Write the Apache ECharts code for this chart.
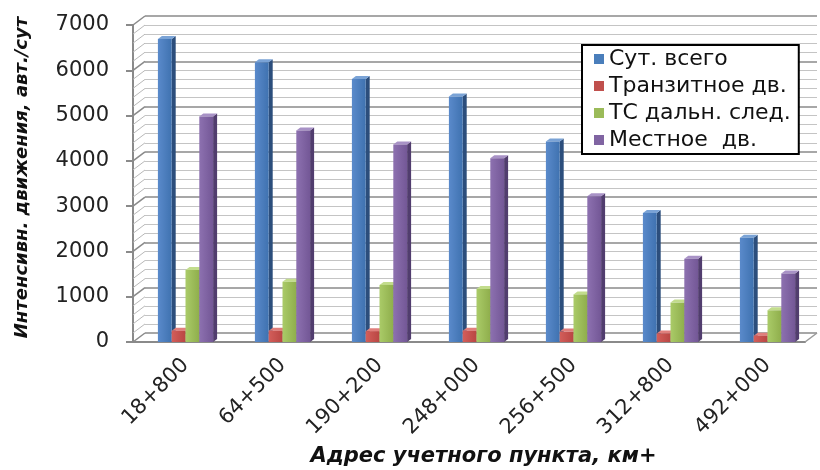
<!DOCTYPE html>
<html>
<head>
<meta charset="utf-8">
<style>
  html, body { margin: 0; padding: 0; background: #fff; }
  #chart { width: 820px; height: 470px; }
</style>
<script src="https://cdn.jsdelivr.net/npm/echarts@6/dist/echarts.min.js"></script>
</head>
<body>
<div id="chart"></div>
<script>
// Учетные пункты (адрес, км+)
const categories = ['18+800', '64+500', '190+200', '248+000', '256+500', '312+800', '492+000'];

// Интенсивность движения, авт./сут
const totalDaily   = [6690, 6180, 5810, 5420, 4430, 2850, 2300];
const transit      = [250, 250, 240, 250, 230, 190, 140];
const longDistance = [1590, 1330, 1260, 1170, 1050, 870, 700];
const localTraffic = [4980, 4670, 4360, 4060, 3220, 1840, 1510];

const seriesNames = ['Сут. всего', 'Транзитное дв.', 'ТС дальн. след.', 'Местное  дв.'];
const seriesData = [totalDaily, transit, longDistance, localTraffic];

// Value axis ticks
const yMin = 0, yMax = 7000, yStep = 1000, yMinorStep = 200;

// Face shades for each series: front, side, top
const palette = [
  { front: ['#5A8ACB', '#3F72B0'], side: '#2C4E7C', top: '#7AA3D6', legend: '#4A7EBB' },
  { front: ['#D35E5A', '#B94643'], side: '#853230', top: '#E07F7C', legend: '#C0504D' },
  { front: ['#AACB68', '#8FAE4C'], side: '#66823A', top: '#C2DC8C', legend: '#9BBB59' },
  { front: ['#8D71B0', '#735796'], side: '#513D6E', top: '#A892C6', legend: '#8064A2' }
];

const FONT = 'DejaVu Sans';
const DEPTH_X = 4, DEPTH_Y = 3;     // bar depth
const WALL_X = 12, WALL_Y = 9;      // chart wall depth
const BAR_W = 13.8;

function boxRenderer(idx) {
  return function (params, api) {
    const cat = api.value(0);
    const val = api.value(1);
    const base = api.coord([cat, 0]);
    const top = api.coord([cat, val]);
    const x0 = base[0] - 2 * BAR_W + idx * BAR_W;
    const x1 = x0 + BAR_W;
    const yb = base[1], yt = top[1];
    const c = palette[idx];
    return {
      type: 'group',
      children: [
        {
          type: 'polygon',
          shape: { points: [[x1, yt], [x1 + DEPTH_X, yt - DEPTH_Y], [x1 + DEPTH_X, yb - DEPTH_Y], [x1, yb]] },
          style: { fill: c.side }
        },
        {
          type: 'polygon',
          shape: { points: [[x0, yt], [x0 + DEPTH_X, yt - DEPTH_Y], [x1 + DEPTH_X, yt - DEPTH_Y], [x1, yt]] },
          style: { fill: c.top }
        },
        {
          type: 'rect',
          shape: { x: x0, y: yt, width: BAR_W, height: yb - yt },
          style: {
            fill: new echarts.graphic.LinearGradient(0, 0, 1, 0, [
              { offset: 0, color: c.front[0] },
              { offset: 1, color: c.front[1] }
            ])
          }
        }
      ]
    };
  };
}

// Levels of the left side wall lines
const wallLevels = [];
for (let v = yMin; v <= yMax; v += yMinorStep) wallLevels.push([0, v]);

function wallRenderer(params, api) {
  const v = api.value(1);
  const p = api.coord([0, v]);
  const cs = params.coordSys;
  const x = cs.x;
  const major = v % yStep === 0;
  const children = [{
    type: 'line',
    shape: { x1: x, y1: p[1], x2: x + WALL_X, y2: p[1] - WALL_Y },
    style: { stroke: major ? '#8a8a8a' : '#b8b8b8', lineWidth: major ? 1.5 : 1 }
  }];
  if (v === yMin) {
    const xr = cs.x + cs.width;
    children.push({
      type: 'line',
      shape: { x1: xr, y1: p[1], x2: xr + WALL_X, y2: p[1] - WALL_Y },
      style: { stroke: '#9a9a9a', lineWidth: 1.5 }
    });
  }
  return { type: 'group', children: children };
}

const chart = echarts.init(document.getElementById('chart'), null, { renderer: 'canvas' });

const barSeries = seriesData.map(function (arr, i) {
  return {
    name: seriesNames[i],
    type: 'custom',
    xAxisIndex: 0,
    yAxisIndex: 0,
    z: 10 + i,
    itemStyle: { color: palette[i].legend },
    renderItem: boxRenderer(i),
    data: arr.map(function (v, k) { return [k, v]; })
  };
});

chart.setOption({
  backgroundColor: '#ffffff',
  animation: false,
  textStyle: { fontFamily: FONT },
  grid: [
    // bars and category labels
    { left: 137, right: 4, top: 25, bottom: 128, containLabel: false, outerBoundsMode: 'none' },
    // front frame with value labels
    { left: 133, right: 15, top: 25, bottom: 128, containLabel: false, outerBoundsMode: 'none' },
    // back wall
    { left: 133 + WALL_X, right: 15 - WALL_X, top: 25 - WALL_Y, bottom: 128 + WALL_Y, containLabel: false, outerBoundsMode: 'none' }
  ],
  xAxis: [
    {
      gridIndex: 0, type: 'category', data: categories,
      axisLine: { show: false }, axisTick: { show: false },
      axisLabel: { rotate: 45, margin: 20, fontSize: 21, color: '#222', fontFamily: FONT },
      name: 'Адрес учетного пункта, км+',
      nameLocation: 'middle', nameGap: 104,
      nameTextStyle: { fontSize: 21, fontWeight: 'bold', fontStyle: 'italic', color: '#111', fontFamily: FONT, padding: [0, 0, 0, 14] }
    },
    {
      gridIndex: 1, type: 'category', data: categories,
      axisLine: { show: true, lineStyle: { color: '#8a8a8a', width: 2 } },
      axisTick: { show: false }, axisLabel: { show: false }
    },
    {
      gridIndex: 2, type: 'category', data: categories,
      axisLine: { show: false }, axisTick: { show: false }, axisLabel: { show: false }
    }
  ],
  yAxis: [
    {
      gridIndex: 0, type: 'value', min: yMin, max: yMax, interval: yStep,
      show: false
    },
    {
      gridIndex: 1, type: 'value', min: yMin, max: yMax, interval: yStep,
      axisLine: { show: true, lineStyle: { color: '#8a8a8a', width: 2 } },
      axisTick: { show: true, length: 7, lineStyle: { color: '#8a8a8a', width: 2 } },
      axisLabel: {
        margin: 24, fontSize: 21, color: '#222', fontFamily: FONT,
        formatter: function (v) { return String(v); }
      },
      splitLine: { show: false },
      name: 'Интенсивн. движения, авт./сут',
      nameLocation: 'middle', nameGap: 102,
      nameTextStyle: { fontSize: 18, fontWeight: 'bold', fontStyle: 'italic', color: '#111', fontFamily: FONT, padding: [0, 0, 0, 12] }
    },
    {
      gridIndex: 2, type: 'value', min: yMin, max: yMax, interval: yStep,
      axisLine: { show: false }, axisTick: { show: false }, axisLabel: { show: false },
      splitLine: { show: true, lineStyle: { color: '#8a8a8a', width: 1.6 } },
      minorTick: { show: false, splitNumber: yStep / yMinorStep },
      minorSplitLine: { show: true, lineStyle: { color: '#c4c4c4', width: 1 } }
    }
  ],
  legend: {
    orient: 'vertical',
    left: 582, top: 45,
    data: seriesNames,
    icon: 'rect',
    itemWidth: 10, itemHeight: 10,
    itemGap: 5,
    padding: [3, 8, 3, 12],
    backgroundColor: '#ffffff',
    borderColor: '#000000',
    borderWidth: 2,
    textStyle: { fontSize: 22, color: '#111', fontFamily: FONT }
  },
  series: [
    {
      name: 'wall',
      type: 'custom',
      xAxisIndex: 1, yAxisIndex: 1,
      z: 2,
      silent: true,
      renderItem: wallRenderer,
      data: wallLevels
    }
  ].concat(barSeries)
});
</script>
</body>
</html>
